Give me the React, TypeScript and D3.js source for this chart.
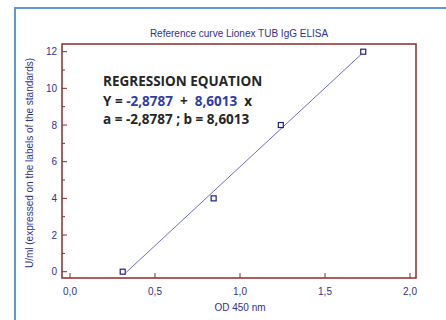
import React, { useRef, useEffect } from 'react';
import * as d3 from 'd3';

// standards: OD 450 nm vs U/ml
const odValues = [0.31, 0.845, 1.24, 1.725];
const unitValues = [0, 4, 8, 12];
const interceptA = -2.8787;
const slopeB = 8.6013;
const xTicks = [0, 0.5, 1.0, 1.5, 2.0];
const yTicks = [0, 2, 4, 6, 8, 10, 12];
const yMinorTicks = [1, 3, 5, 7, 9, 11];

const App = () => {
  const svgRef = useRef<SVGSVGElement>(null);
  const W = 446;
  const H = 320;
  const frame = { left: 62, right: 416, top: 44, bottom: 278 };

  useEffect(() => {
    const svg = d3.select(svgRef.current);
    svg.selectAll('*').remove();

    const x = d3.scaleLinear().domain([0, 2]).range([70, 410]);
    const y = d3.scaleLinear().domain([0, 12]).range([271.7, 51.7]);
    const axisCol = '#8e2b2b';
    const textCol = '#32328f';
    const fmt = (v: number) => d3.format('.1f')(v).replace('.', ',');

    // outer frame (light blue)
    svg.append('path')
      .attr('d', `M15,${H} L15,8 L${W},8`)
      .attr('fill', 'none')
      .attr('stroke', '#5b9bd5')
      .attr('stroke-width', 2);

    // title
    svg.append('text')
      .attr('x', 239).attr('y', 37)
      .attr('text-anchor', 'middle')
      .attr('font-family', 'Liberation Sans, Arial, sans-serif')
      .attr('font-size', 10)
      .attr('fill', textCol)
      .text('Reference curve Lionex TUB IgG ELISA');

    // y ticks
    const g = svg.append('g');
    yTicks.forEach(t => {
      g.append('line')
        .attr('x1', frame.left).attr('x2', frame.left + 5)
        .attr('y1', y(t)).attr('y2', y(t))
        .attr('stroke', axisCol).attr('stroke-width', 1);
      g.append('text')
        .attr('x', 57).attr('y', y(t) + 3.5)
        .attr('text-anchor', 'end')
        .attr('font-family', 'Liberation Sans, Arial, sans-serif')
        .attr('font-size', 10)
        .attr('fill', textCol)
        .text(t);
    });
    yMinorTicks.forEach(t => {
      g.append('line')
        .attr('x1', frame.left).attr('x2', frame.left + 3)
        .attr('y1', y(t)).attr('y2', y(t))
        .attr('stroke', axisCol).attr('stroke-width', 1);
    });

    // x ticks
    xTicks.forEach(t => {
      g.append('line')
        .attr('x1', x(t)).attr('x2', x(t))
        .attr('y1', frame.bottom).attr('y2', frame.bottom - 5)
        .attr('stroke', axisCol).attr('stroke-width', 1);
      g.append('text')
        .attr('x', x(t)).attr('y', 295)
        .attr('text-anchor', 'middle')
        .attr('font-family', 'Liberation Sans, Arial, sans-serif')
        .attr('font-size', 10)
        .attr('fill', textCol)
        .text(fmt(t));
    });

    // plot frame
    svg.append('rect')
      .attr('x', frame.left).attr('y', frame.top)
      .attr('width', frame.right - frame.left)
      .attr('height', frame.bottom - frame.top)
      .attr('fill', 'none')
      .attr('stroke', axisCol)
      .attr('stroke-width', 1.5);

    // regression line
    const x0 = d3.min(odValues) as number;
    const x1 = d3.max(odValues) as number;
    const fit = [x0 + 0.02, x1].map(v => [v, interceptA + slopeB * v]);
    svg.append('path')
      .datum(fit)
      .attr('fill', 'none')
      .attr('stroke', '#6f6fbf')
      .attr('stroke-width', 1)
      .attr('d', d3.line<number[]>().x(d => x(d[0])).y(d => y(d[1])));

    // standards
    svg.selectAll('rect.pt')
      .data(odValues)
      .enter().append('rect')
      .attr('class', 'pt')
      .attr('x', (d) => x(d) - 2.5)
      .attr('y', (d, i) => y(unitValues[i]) - 2.5)
      .attr('width', 5).attr('height', 5)
      .attr('fill', 'white')
      .attr('stroke', '#1e1e8c')
      .attr('stroke-width', 1.2);

    // axis labels
    svg.append('text')
      .attr('x', 240).attr('y', 311)
      .attr('text-anchor', 'middle')
      .attr('font-family', 'Liberation Sans, Arial, sans-serif')
      .attr('font-size', 10)
      .attr('fill', textCol)
      .text('OD 450 nm');
    svg.append('text')
      .attr('transform', 'translate(33,163) rotate(-90)')
      .attr('text-anchor', 'middle')
      .attr('font-family', 'Liberation Sans, Arial, sans-serif')
      .attr('font-size', 10)
      .attr('fill', textCol)
      .text('U/ml (expressed on the labels of the standards)');

    // regression equation box
    const eq = svg.append('g')
      .attr('font-family', 'Open Sans, Lato, sans-serif')
      .attr('font-weight', 'bold')
      .attr('font-size', 13.5)
      .attr('fill', '#262626');
    const num = (v: number) => d3.format('.4f')(v).replace('.', ',').replace('\u2212', '-');
    eq.append('text').attr('x', 103).attr('y', 86).text('REGRESSION EQUATION');
    const l2 = eq.append('text').attr('x', 103).attr('y', 106).attr('xml:space', 'preserve');
    l2.append('tspan').text('Y = ');
    l2.append('tspan').attr('fill', '#2e3da8').text(num(interceptA));
    l2.append('tspan').text('  +  ');
    l2.append('tspan').attr('fill', '#2e3da8').text(num(slopeB));
    l2.append('tspan').text('  x');
    eq.append('text').attr('x', 103).attr('y', 124)
      .text(`a = ${num(interceptA)} ; b = ${num(slopeB)}`);
  }, []);

  return <svg ref={svgRef} width={W} height={H} style={{ position: 'absolute', left: 0, top: 0 }}></svg>;
};

export default App;
